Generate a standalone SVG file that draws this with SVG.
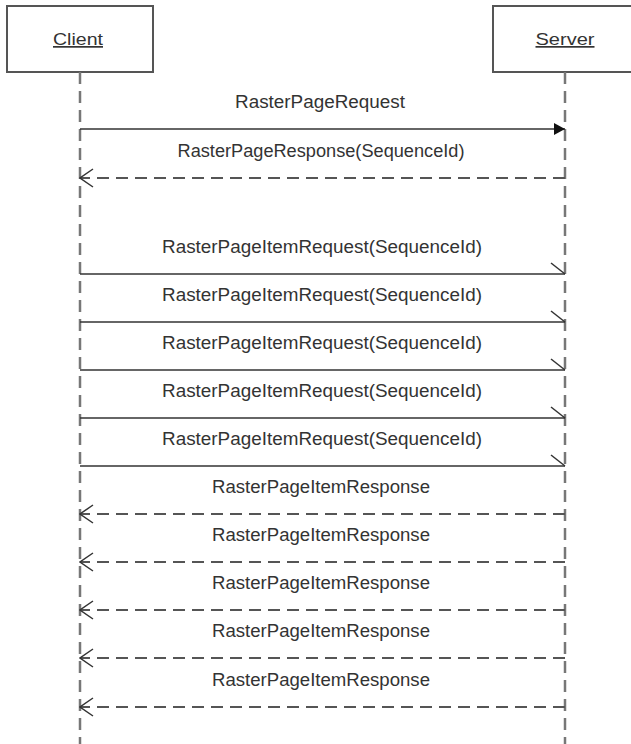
<svg xmlns="http://www.w3.org/2000/svg" width="631" height="744" viewBox="0 0 631 744">
<style>
.box{fill:#fff;stroke:#555;stroke-width:2}
.life{stroke:#777;stroke-width:2.5;stroke-dasharray:12 7;fill:none}
.msg{stroke:#333;stroke-width:1.6;fill:none}
.resp{stroke:#555;stroke-width:1.8;fill:none;stroke-dasharray:12 7}
.lbl{font-family:"Liberation Sans",Arial,sans-serif;font-size:17.5px;fill:#333;text-anchor:middle}
.name{font-family:"Liberation Sans",Arial,sans-serif;font-size:17px;fill:#333;text-anchor:middle;text-decoration:underline}
</style>
<defs>
<marker id="filled" markerWidth="12" markerHeight="14" refX="11" refY="7" orient="auto" markerUnits="userSpaceOnUse">
<path d="M0,1 L11,7 L0,13 Z" fill="#111"/>
</marker>
<marker id="half" markerWidth="16" markerHeight="14" refX="15" refY="12" orient="auto" markerUnits="userSpaceOnUse">
<path d="M1,1 L15,12" stroke="#333" stroke-width="1.5" fill="none"/>
</marker>
<marker id="open" markerWidth="15" markerHeight="20" refX="14" refY="10" orient="auto" markerUnits="userSpaceOnUse">
<path d="M1,1 L14,10 L1,19" stroke="#333" stroke-width="1.5" fill="none"/>
</marker>
</defs>
<g id="client">
<rect class="box" x="7" y="6" width="146" height="66"/>
<text class="name" x="78" y="45" textLength="50" lengthAdjust="spacingAndGlyphs">Client</text>
<line class="life" x1="80" y1="72" x2="80" y2="744"/>
</g>
<g id="server">
<rect class="box" x="493" y="6" width="146" height="66"/>
<text class="name" x="565" y="45" textLength="59" lengthAdjust="spacingAndGlyphs">Server</text>
<line class="life" x1="565" y1="72" x2="565" y2="744"/>
</g>
<g id="connectors">
<line class="msg" x1="80" y1="129" x2="565" y2="129" marker-end="url(#filled)"/>
<text class="lbl" x="320" y="108" textLength="170" lengthAdjust="spacingAndGlyphs">RasterPageRequest</text>
<line class="resp" x1="565" y1="178" x2="80" y2="178" marker-end="url(#open)"/>
<text class="lbl" x="321" y="157" textLength="287" lengthAdjust="spacingAndGlyphs">RasterPageResponse(SequenceId)</text>

<line class="msg" x1="80" y1="274" x2="565" y2="274" marker-end="url(#half)"/>
<text class="lbl" x="322" y="253" textLength="320" lengthAdjust="spacingAndGlyphs">RasterPageItemRequest(SequenceId)</text>
<line class="msg" x1="80" y1="322" x2="565" y2="322" marker-end="url(#half)"/>
<text class="lbl" x="322" y="301" textLength="320" lengthAdjust="spacingAndGlyphs">RasterPageItemRequest(SequenceId)</text>
<line class="msg" x1="80" y1="370" x2="565" y2="370" marker-end="url(#half)"/>
<text class="lbl" x="322" y="349" textLength="320" lengthAdjust="spacingAndGlyphs">RasterPageItemRequest(SequenceId)</text>
<line class="msg" x1="80" y1="418" x2="565" y2="418" marker-end="url(#half)"/>
<text class="lbl" x="322" y="397" textLength="320" lengthAdjust="spacingAndGlyphs">RasterPageItemRequest(SequenceId)</text>
<line class="msg" x1="80" y1="466" x2="565" y2="466" marker-end="url(#half)"/>
<text class="lbl" x="322" y="445" textLength="320" lengthAdjust="spacingAndGlyphs">RasterPageItemRequest(SequenceId)</text>

<line class="resp" x1="565" y1="514" x2="80" y2="514" marker-end="url(#open)"/>
<text class="lbl" x="321" y="493" textLength="218" lengthAdjust="spacingAndGlyphs">RasterPageItemResponse</text>
<line class="resp" x1="565" y1="562" x2="80" y2="562" marker-end="url(#open)"/>
<text class="lbl" x="321" y="541" textLength="218" lengthAdjust="spacingAndGlyphs">RasterPageItemResponse</text>
<line class="resp" x1="565" y1="610" x2="80" y2="610" marker-end="url(#open)"/>
<text class="lbl" x="321" y="589" textLength="218" lengthAdjust="spacingAndGlyphs">RasterPageItemResponse</text>
<line class="resp" x1="565" y1="658" x2="80" y2="658" marker-end="url(#open)"/>
<text class="lbl" x="321" y="637" textLength="218" lengthAdjust="spacingAndGlyphs">RasterPageItemResponse</text>
<line class="resp" x1="565" y1="707" x2="80" y2="707" marker-end="url(#open)"/>
<text class="lbl" x="321" y="686" textLength="218" lengthAdjust="spacingAndGlyphs">RasterPageItemResponse</text>
</g>
</svg>
